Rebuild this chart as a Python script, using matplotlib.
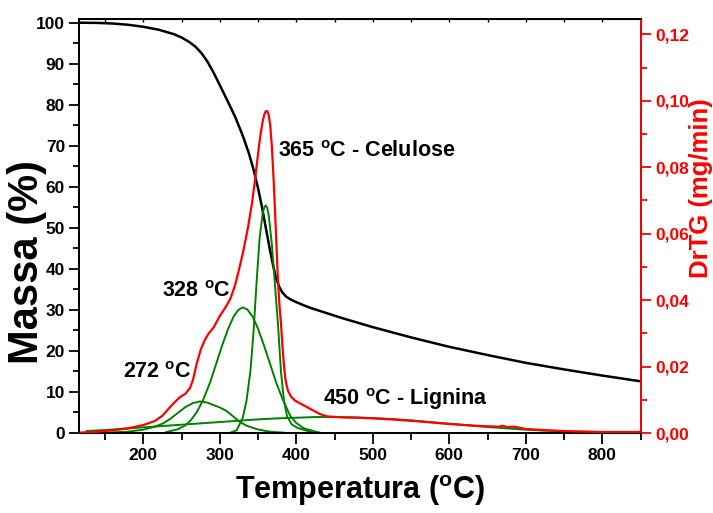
import matplotlib
matplotlib.use("Agg")
import matplotlib.pyplot as plt
from matplotlib.ticker import MultipleLocator

plt.rcParams['font.family'] = ['Liberation Sans', 'DejaVu Sans']
plt.rcParams['font.weight'] = 'bold'
plt.rcParams['mathtext.fontset'] = 'custom'
plt.rcParams['mathtext.rm'] = 'Liberation Sans:bold'
plt.rcParams['mathtext.bf'] = 'Liberation Sans:bold'
plt.rcParams['mathtext.it'] = 'Liberation Sans:bold'

# --- TG curve: residual mass (%) vs temperature (ºC) ---
tg_temp = [116, 140, 160, 180, 200, 220, 240, 250, 260, 268, 276, 284, 292,
           300, 310, 320, 330, 338, 344, 350, 355, 360, 365, 370, 374, 378,
           382, 387, 393, 400, 410, 420, 440, 460, 480, 500, 550, 600, 650,
           700, 750, 800, 850]
tg_mass = [100.0, 99.95, 99.8, 99.5, 99.0, 98.3, 97.2, 96.4, 95.3, 94.2, 92.6,
           90.5, 87.8, 84.8, 81.0, 77.1, 72.5, 68.2, 64.3, 59.7, 55.2, 50.2,
           45.2, 40.6, 37.5, 35.5, 34.2, 33.2, 32.5, 31.9, 31.1, 30.4, 29.2,
           28.0, 26.9, 25.8, 23.3, 21.0, 19.0, 17.1, 15.5, 14.0, 12.6]

# --- DrTG curve (mg/min) ---
dtg_temp = [116, 140, 160, 180, 200, 215, 225, 235, 242, 248, 255, 261, 265, 270,
            275, 280, 285, 292, 300, 308, 314, 320, 326, 331, 337, 342, 346, 350,
            353, 356, 358, 360, 362, 364, 366, 368, 370, 372, 374, 376, 378, 380,
            382, 384, 386, 389, 393, 398, 405, 414, 422, 430, 440, 460, 480, 500,
            530, 560, 600, 640, 665, 670, 675, 685, 700, 730, 760, 800, 850]
dtg_rate = [0.0001, 0.0004, 0.0008, 0.0014, 0.0024, 0.0036, 0.0052, 0.0078,
            0.0095, 0.0108, 0.0118, 0.0135, 0.0160, 0.0210, 0.0250, 0.0278,
            0.0298, 0.0318, 0.0352, 0.0380, 0.0405, 0.0445, 0.0500, 0.0550,
            0.0620, 0.0690, 0.0760, 0.0840, 0.0895, 0.0937, 0.0957, 0.0968,
            0.0969, 0.0957, 0.0925, 0.0865, 0.0780, 0.0680, 0.0570, 0.0460,
            0.0385, 0.0330, 0.0260, 0.0200, 0.0158, 0.0128, 0.0110, 0.0098,
            0.0089, 0.0078, 0.0068, 0.0058, 0.0050, 0.0047, 0.0046, 0.0044,
            0.0040, 0.0035, 0.0027, 0.0021, 0.0019, 0.0022, 0.0018, 0.0019,
            0.0012, 0.0008, 0.0005, 0.0003, 0.0003]

# --- deconvoluted components (mg/min) ---
p272_temp = [150, 180, 200, 215, 225, 235, 245, 255, 265, 274, 283, 292, 300,
             309, 318, 326, 335, 348, 360, 370, 385]
p272_rate = [0.0001, 0.0004, 0.0010, 0.0019, 0.0028, 0.0042, 0.0060, 0.0078,
             0.0090, 0.0095, 0.0092, 0.0084, 0.0077, 0.0066, 0.0049, 0.0034,
             0.0022, 0.0012, 0.0006, 0.0003, 0.0001]

p328_temp = [230, 245, 255, 262, 270, 278, 287, 295, 303, 311, 318, 324, 330,
             336, 343, 350, 358, 366, 374, 382, 392, 400, 410, 425]
p328_rate = [0.0003, 0.0011, 0.0023, 0.0038, 0.0063, 0.0098, 0.0150, 0.0206,
             0.0263, 0.0314, 0.0350, 0.0370, 0.0378, 0.0372, 0.0350, 0.0314,
             0.0262, 0.0206, 0.0150, 0.0103, 0.0052, 0.0030, 0.0014, 0.0004]

p365_temp = [315, 322, 330, 335, 340, 344, 348, 352, 356, 358, 360, 362, 364,
             368, 372, 376, 380, 384, 388, 394, 402, 415, 430]
p365_rate = [0.0002, 0.0008, 0.0045, 0.0098, 0.0185, 0.0300, 0.0450, 0.0585,
             0.0660, 0.0678, 0.0685, 0.0678, 0.0655, 0.0570, 0.0450, 0.0330,
             0.0185, 0.0095, 0.0050, 0.0026, 0.0015, 0.0006, 0.0002]

p450_temp = [126, 150, 175, 200, 225, 250, 275, 300, 325, 350, 375, 400, 425,
             450, 475, 500, 525, 550, 575, 600, 625, 650, 675, 700, 725, 750,
             800, 850]
p450_rate = [0.0006, 0.0009, 0.0013, 0.0017, 0.0021, 0.0025, 0.0029, 0.0033,
             0.0037, 0.0041, 0.0044, 0.0046, 0.0048, 0.0048, 0.0047, 0.0045,
             0.0042, 0.0038, 0.0033, 0.0028, 0.0023, 0.0018, 0.0014, 0.0010,
             0.0007, 0.0005, 0.0003, 0.0002]

# --- tick labels ---
x_ticks = [200, 300, 400, 500, 600, 700, 800]
mass_ticks = [0, 10, 20, 30, 40, 50, 60, 70, 80, 90, 100]
dtg_ticks = [0.00, 0.02, 0.04, 0.06, 0.08, 0.10, 0.12]
dtg_labels = ['0,00', '0,02', '0,04', '0,06', '0,08', '0,10', '0,12']

RED = '#ff0000'
GREEN = '#008000'

fig = plt.figure(figsize=(7.13, 5.13), dpi=100)
ax1 = fig.add_axes([79 / 713, 80 / 513, 562 / 713, 414 / 513])
ax2 = ax1.twinx()

ax1.plot(tg_temp, tg_mass, color='black', lw=1.8, zorder=3)

for t, r in [(p272_temp, p272_rate), (p328_temp, p328_rate),
             (p365_temp, p365_rate), (p450_temp, p450_rate)]:
    ax2.plot(t, r, color=GREEN, lw=1.4, zorder=2)
ax2.plot(dtg_temp, dtg_rate, color=RED, lw=1.6, zorder=3)

ax1.set_xlim(116, 850.6)
ax1.set_ylim(0, 100.9)
ax2.set_ylim(0, 0.1246)

ax1.set_xticks(x_ticks, [str(v) for v in x_ticks])
ax1.xaxis.set_minor_locator(MultipleLocator(50))
ax1.set_yticks(mass_ticks, [str(v) for v in mass_ticks])
ax1.yaxis.set_minor_locator(MultipleLocator(5))
ax2.set_yticks(dtg_ticks, dtg_labels)
ax2.yaxis.set_minor_locator(MultipleLocator(0.01))

for ax in (ax1, ax2):
    for s in ax.spines.values():
        s.set_linewidth(1.4)
ax2.spines['right'].set_color(RED)

ax1.tick_params(axis='both', which='major', direction='out', width=1.3,
                labelsize=12.5, pad=3)
ax1.tick_params(axis='x', which='major', length=8)
ax1.tick_params(axis='x', which='minor', length=5, width=1.3)
ax1.tick_params(axis='y', which='major', length=7)
ax1.tick_params(axis='y', which='minor', length=4, width=1.3)
ax2.tick_params(axis='y', which='major', direction='out', length=7, width=1.3,
                colors=RED, labelsize=12.5, pad=3)
ax2.tick_params(axis='y', which='minor', direction='out', length=4, width=1.3,
                colors=RED)

top = ax1.secondary_xaxis('top')
top.set_xticks(list(range(150, 851, 50)))
top.tick_params(direction='in', length=2.5, width=1.0, labeltop=False)

# axis titles
fig.text(27 / 713, 1 - 262 / 513, 'Massa (%)', rotation=90, ha='center',
         va='center', fontsize=30, fontweight='bold')
fig.text(360 / 713, 1 - 491 / 513, r'Temperatura ($^{\mathrm{o}}$C)',
         ha='center', va='center', fontsize=22, fontweight='bold')
fig.text(701 / 713, 1 - 188 / 513, 'DrTG (mg/min)', rotation=90, ha='center',
         va='center', fontsize=18.5, fontweight='bold', color=RED)

# peak annotations
ann = dict(fontsize=15.5, fontweight='bold', ha='left', va='baseline')
ax1.text(376, 67.2, r'365 $^{\mathrm{o}}$C - Celulose', **ann)
ax1.text(224, 33.1, r'328 $^{\mathrm{o}}$C', **ann)
ax1.text(173.5, 13.3, r'272 $^{\mathrm{o}}$C', **ann)
ax1.text(434.5, 6.75, r'450 $^{\mathrm{o}}$C - Lignina', **ann)

fig.savefig('out.png', dpi=100)
